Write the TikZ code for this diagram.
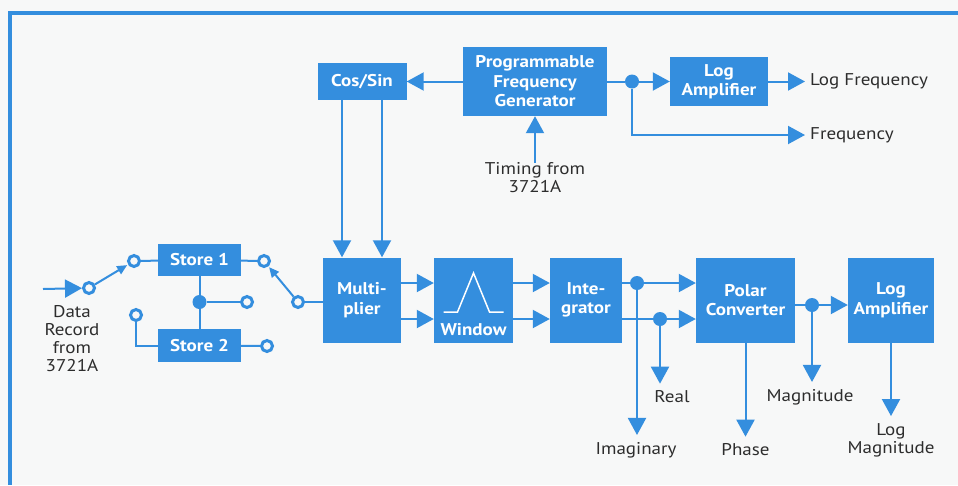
\documentclass[tikz,border=0pt]{standalone}
\usepackage{fontspec}
\setmainfont{PT Sans}[FakeStretch=1.12]
\usetikzlibrary{arrows.meta}
\definecolor{hpblue}{RGB}{52,142,222}
\definecolor{inkgray}{RGB}{45,45,45}
\definecolor{paper}{RGB}{247,248,248}
\tikzset{
  blktext/.style={text=white,font=\fontsize{17}{19.5}\selectfont\bfseries,align=center,inner sep=0pt},
  blk/.style={blktext,fill=hpblue},
  lbl/.style={text=inkgray,font=\fontsize{17}{18}\selectfont,align=center,inner sep=0pt},
  wire/.style={draw=hpblue,line width=2pt},
  arr/.style={wire,-{Triangle[length=17pt,width=18pt]}},
  arm/.style={wire,-{Triangle[length=10pt,width=9pt]},shorten >=1pt},
  contact/.style={circle,draw=hpblue,line width=3pt,fill=paper,inner sep=0pt,minimum size=11pt},
  junc/.style={circle,fill=hpblue,inner sep=0pt,minimum size=14pt}
}
\begin{document}
\begin{tikzpicture}[x=1pt,y=-1pt]
        \fill[paper] (0,0) rectangle (958,485);
        \useasboundingbox (0,0) rectangle (958,485);
        \draw[hpblue,line width=4pt] (8,13) -- (958,13);
        \draw[hpblue,line width=4pt] (10,11) -- (10,485);
        % frequency part
        \node[blk,minimum width=89pt,minimum height=37pt] (cs) at (362,81.5) {Cos/Sin};
        \node[blk,minimum width=144pt,minimum height=69pt] (pfg) at (535,81.5) {Programmable\\Frequency\\Generator};
        \node[blk,minimum width=98pt,minimum height=49pt] (la1) at (719,81.5) {Log\\Amplifier};
        \node[junc] (fd) at (632,81.5) {};
        \node[lbl,anchor=west] (lf) at (810,81.5) {Log Frequency};
        \node[lbl,anchor=west] (fq) at (810,135) {Frequency};
        \node[lbl] (tm) at (535,178) {Timing from\\3721A};
        \draw[arr] (pfg) -- (cs);
        \draw[wire] (pfg) -- (fd);
        \draw[arr] (fd) -- (la1);
        \draw[arr,shorten >=5pt] (la1) -- (lf.west);
        \draw[arr,shorten >=5pt] (fd) |- (fq.west);
        \draw[arr] (tm) -- (pfg);
        % signal chain
        \node[blk,minimum width=78pt,minimum height=85pt] (mul) at (362,300) {Multi-\\plier};
        \node[blk,minimum width=79pt,minimum height=85pt] (win) at (473.5,300) {};
        \node[blktext] (wt) at (473.5,330) {Window};
        \node[blk,minimum width=72pt,minimum height=85pt] (itg) at (586,300) {Inte-\\grator};
        \node[blk,minimum width=99pt,minimum height=85pt] (pc) at (745.5,300) {Polar\\Converter};
        \node[blk,minimum width=86pt,minimum height=85pt] (la2) at (891,300) {Log\\Amplifier};
        \draw[white,line width=1.5pt] ([shift={(-30pt,-12pt)}]win.center) -- ([shift={(-16pt,-12pt)}]win.center)
            -- ([shift={(0pt,27pt)}]win.center) -- ([shift={(16pt,-12pt)}]win.center) -- ([shift={(30pt,-12pt)}]win.center);
        \draw[arr] ([xshift=-20pt]cs.south) -- ([xshift=-20pt]mul.north);
        \draw[arr] ([xshift=20pt]cs.south) -- ([xshift=20pt]mul.north);
        \draw[arr] ([yshift=17pt]mul.east) -- ([yshift=17pt]win.west);
        \draw[arr] ([yshift=-19pt]mul.east) -- ([yshift=-19pt]win.west);
        \draw[arr] ([yshift=17pt]win.east) -- ([yshift=17pt]itg.west);
        \draw[arr] ([yshift=-19pt]win.east) -- ([yshift=-19pt]itg.west);
        \node[junc] (id) at (637,283) {};
        \node[junc] (rd) at (660,319) {};
        \draw[arr] ([yshift=17pt]itg.east) -- ([yshift=17pt]pc.west);
        \draw[arr] ([yshift=-19pt]itg.east) -- ([yshift=-19pt]pc.west);
        \node[lbl] (im) at (636,450) {Imaginary};
        \node[lbl] (re) at (672,397) {Real};
        \draw[arr,shorten >=7pt] (id) -- (id |- im.north);
        \draw[arr,shorten >=7pt] (rd) -- (rd |- re.north);
        \node[junc] (md) at (812,305) {};
        \draw[wire] ([yshift=-5pt]pc.east) -- (md);
        \draw[arr] (md) -- ([yshift=-5pt]la2.west);
        \node[lbl] (mg) at (810,397) {Magnitude};
        \draw[arr,shorten >=7pt] (md) -- (md |- mg.north);
        \node[lbl] (ph) at (745.5,450) {Phase};
        \draw[arr,shorten >=7pt] (pc) -- (ph);
        \node[lbl] (lm) at (891,440) {Log\\Magnitude};
        \draw[arr,shorten >=7pt] (la2) -- (lm);
        % stores and switches
        \node[blk,minimum width=83pt,minimum height=32pt] (s1) at (199.5,260) {Store 1};
        \node[blk,minimum width=83pt,minimum height=33pt] (s2) at (199.5,345.5) {Store 2};
        \coordinate (din) at (43,289);
        \node[lbl] (dr) at (72,339) {Data\\Record\\from\\3721A};
        \draw[wire] (s1) -- (s2);
        \node[junc] (sd) at (199.5,302) {};
        \node[contact] (k0) at (89,288) {};
        \node[contact] (k1) at (134,261) {};
        \node[contact] (k2) at (264,261) {};
        \node[contact] (k3) at (298,302) {};
        \node[contact] (k4) at (247,302) {};
        \node[contact] (k5) at (136,315) {};
        \node[contact] (k6) at (267,346) {};
        \draw[arr] (din) -- (k0);
        \draw[arm] (k0) -- (k1);
        \draw[wire] (k1) -- (s1);
        \draw[wire] (s1) -- (k2);
        \draw[arm] (k3) -- (k2);
        \draw[wire] (k3) -- (k3 -| mul.west);
        \draw[wire] (sd) -- (k4);
        \draw[wire] (k5) |- (s2);
        \draw[wire] (s2) -- (k6);
    \end{tikzpicture}
\end{document}
